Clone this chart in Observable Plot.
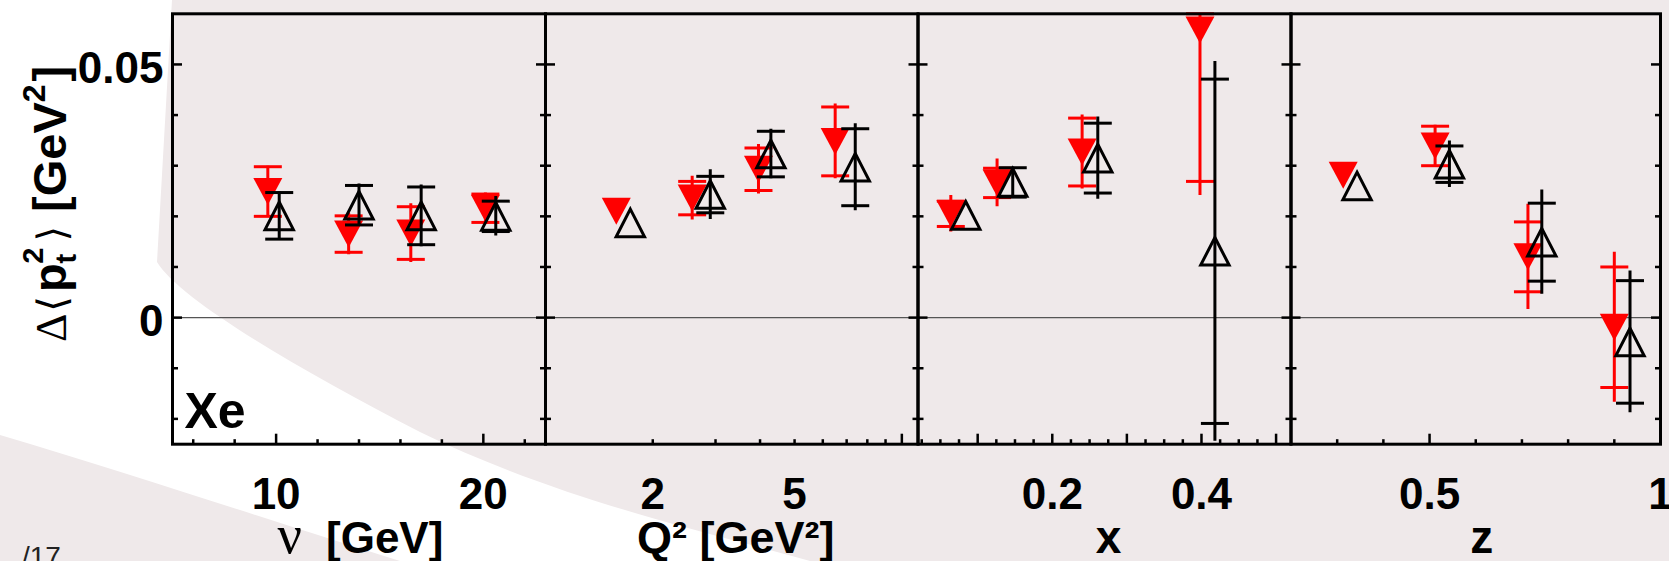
<!DOCTYPE html>
<html><head><meta charset="utf-8">
<script src="https://cdn.jsdelivr.net/npm/d3@7"></script>
<script src="https://cdn.jsdelivr.net/npm/@observablehq/plot@0.6"></script>
<style>
html,body{margin:0;padding:0;width:1669px;height:561px;overflow:hidden;background:#efe9ea;}
#stage{position:relative;width:1669px;height:561px;overflow:hidden;}
#stage svg{position:absolute;left:0;top:0;}
#slide{position:absolute;left:22px;top:541px;font:28px "Liberation Sans",Arial,sans-serif;color:#222;}
</style></head><body>
<div id="stage">
<svg width="1669" height="561" style="position:absolute;left:0;top:0">
  <path d="M0,0 L172,0 L157,262 C180,300 300,370 420,432 C560,500 700,530 810,561 L400,561 C300,530 150,480 0,435 Z" fill="#ffffff"/>
</svg>
<svg width="1669" height="561" style="position:absolute;left:0;top:0;z-index:5">
  <text transform="translate(66,342) rotate(-90)" font-family="Liberation Sans, Arial, sans-serif" font-size="47" fill="#000"><tspan font-family="Liberation Serif, serif" font-size="44">Δ</tspan><tspan font-family="DejaVu Sans, sans-serif" font-size="40" dx="2">⟨</tspan><tspan font-weight="bold" dx="4">p</tspan><tspan font-size="29" font-weight="bold" dy="10">t</tspan><tspan font-size="29" font-weight="bold" dx="-10" dy="-33">2</tspan><tspan font-family="DejaVu Sans, sans-serif" font-size="40" dx="6" dy="23">⟩</tspan><tspan font-weight="bold" dx="14">[GeV</tspan><tspan font-size="32" font-weight="bold" dy="-21">2</tspan><tspan font-weight="bold" dx="3" dy="21">]</tspan></text>
</svg>
<div id="slide">/17</div>
</div>
<script>
// ---------------- data ----------------
// common y ticks
const yLabelTicks = [0, 0.05];
const yMinorTicks = [-0.02, -0.01, 0.01, 0.02, 0.03, 0.04];

// panel 1: nu [GeV]
const nuRed = [9.6, 13.5, 16.5, 20.1];
const nuRedVal = [0.0249, 0.0165, 0.0167, 0.0216];
const nuRedStat = [0.0049, 0.0036, 0.0052, 0.0028];
const nuRedTot = [0.0050, 0.0041, 0.0058, 0.0030];
const nuBlack = [10.15, 14.0, 17.0, 20.6];
const nuBlackVal = [0.0201, 0.0222, 0.0201, 0.0200];
const nuBlackStat = [0.0046, 0.0039, 0.0057, 0.0030];
const nuBlackTot = [0.0047, 0.0042, 0.0061, 0.0039];
const nuLabels = [10, 20];
const nuMajor = [10, 20];
const nuMinor = [6, 8, 12, 14, 16, 18, 22];

// panel 2: Q^2 [GeV^2]
const q2Red = [1.58, 2.58, 3.96, 6.5];
const q2RedVal = [0.0210, 0.0236, 0.0293, 0.0348];
const q2RedStat = [0, 0.0033, 0.0042, 0.0068];
const q2RedTot = [0, 0.0043, 0.0049, 0.0074];
const q2Black = [1.73, 2.9, 4.29, 7.4];
const q2BlackVal = [0.0187, 0.0243, 0.0323, 0.0297];
const q2BlackStat = [0, 0.0036, 0.0045, 0.0076];
const q2BlackTot = [0, 0.0049, 0.0049, 0.0086];
const q2Labels = [2, 5];
const q2Major = [10];
const q2Minor = [2, 3, 4, 5, 6, 7, 8, 9];

// panel 3: x
const xRed = [0.064, 0.126, 0.240, 0.398];
const xRedVal = [0.0205, 0.0266, 0.0327, 0.0568];
const xRedStat = [0.0025, 0.0029, 0.0067, 0.0299];
const xRedTot = [0.0036, 0.0047, 0.0073, 0.0327];
const xBlack = [0.084, 0.147, 0.261, 0.418];
const xBlackVal = [0.0202, 0.0267, 0.0315, 0.0131];
const xBlackStat = [0, 0.0029, 0.0069, 0.0340];
const xBlackTot = [0, 0.0030, 0.0081, 0.0375];
const xLabels = [0.2, 0.4];
const xMajor = [0.1, 0.2, 0.3, 0.4, 0.5];
const xMinor = [0.025, 0.05, 0.075, 0.125, 0.15, 0.175, 0.225, 0.25, 0.275, 0.325, 0.35, 0.375, 0.425, 0.45, 0.475];

// panel 4: z
const zRed = [0.313, 0.512, 0.713, 0.900];
const zRedVal = [0.0281, 0.0339, 0.0120, -0.0019];
const zRedStat = [0, 0.0039, 0.0069, 0.0119];
const zRedTot = [0, 0.0041, 0.0104, 0.0148];
const zBlack = [0.343, 0.543, 0.743, 0.934];
const zBlackVal = [0.0260, 0.0303, 0.0149, -0.0048];
const zBlackStat = [0, 0.0036, 0.0077, 0.0121];
const zBlackTot = [0, 0.0046, 0.0103, 0.0140];
const zLabels = [0.5, 1];
const zMajor = [0.5, 1];
const zMinor = [0.3, 0.4, 0.6, 0.7, 0.8, 0.9];

// ---------------- layout ----------------
const W = 1669, H = 561;
const frameTop = 13.3, frameBottom = 443.7;
const edges = [172, 545, 917.5, 1290.5, 1660];
const yDomain = [-0.025, 0.06];
const sans = "Liberation Sans, Arial, Helvetica, sans-serif";

function rows(xs, v, s, t) { return xs.map((x, i) => ({x, v: v[i], s: s[i], t: t[i]})); }
const clampY = y => Math.max(yDomain[0], Math.min(yDomain[1], y));

const panels = [
  {type: "linear", domain: [5, 23], red: rows(nuRed, nuRedVal, nuRedStat, nuRedTot), black: rows(nuBlack, nuBlackVal, nuBlackStat, nuBlackTot), labels: nuLabels, major: nuMajor, minor: nuMinor,
   titles: [{t: "ν", dx: -57, size: 54, anchor: "end", font: "Liberation Serif, serif", weight: "normal"}, {t: "[GeV]", dx: -33, size: 44, anchor: "start", font: sans, weight: "bold"}]},
  {type: "log", domain: [1, 11.1], red: rows(q2Red, q2RedVal, q2RedStat, q2RedTot), black: rows(q2Black, q2BlackVal, q2BlackStat, q2BlackTot), labels: q2Labels, major: q2Major, minor: q2Minor,
   titles: [{t: "Q² [GeV²]", dx: 4, size: 45, anchor: "middle", font: sans, weight: "bold"}]},
  {type: "linear", domain: [0.02, 0.52], red: rows(xRed, xRedVal, xRedStat, xRedTot), black: rows(xBlack, xBlackVal, xBlackStat, xBlackTot), labels: xLabels, major: xMajor, minor: xMinor,
   titles: [{t: "x", dx: 4, size: 46, anchor: "middle", font: sans, weight: "bold"}]},
  {type: "linear", domain: [0.2, 1.0], red: rows(zRed, zRedVal, zRedStat, zRedTot), black: rows(zBlack, zBlackVal, zBlackStat, zBlackTot), labels: zLabels, major: zMajor, minor: zMinor,
   titles: [{t: "z", dx: 6, size: 46, anchor: "middle", font: sans, weight: "bold"}]}
];

// custom symbols, centred on their bounding box (like ROOT markers)
const triDown = {draw(c, size) { const r = Math.sqrt(size / Math.PI), w = 1.45 * r, h = 1.35 * r; c.moveTo(0, h); c.lineTo(w, -h); c.lineTo(-w, -h); c.closePath(); }};
const triUp = {draw(c, size) { const r = Math.sqrt(size / Math.PI), w = 1.42 * r, h = 1.38 * r; c.moveTo(0, -h); c.lineTo(w, h); c.lineTo(-w, h); c.closePath(); }};
const hline = {draw(c, size) { const r = Math.sqrt(size / Math.PI); c.moveTo(-r, 0); c.lineTo(r, 0); }};

function errMarks(data, color) {
  const d = data.filter(p => p.s > 0);
  return [
    Plot.ruleX(d, {x: "x", y1: p => p.v - p.t, y2: p => p.v + p.t, stroke: color, strokeWidth: 3, clip: true}),
    Plot.dot(d, {x: "x", y: p => clampY(p.v - p.s), symbol: hline, r: 14, stroke: color, fill: "none", strokeWidth: 3}),
    Plot.dot(d, {x: "x", y: p => clampY(p.v + p.s), symbol: hline, r: 14, stroke: color, fill: "none", strokeWidth: 3})
  ];
}

const stage = document.getElementById("stage");
panels.forEach((p, i) => {
  const marks = [
    Plot.ruleY([0], {stroke: "#555", strokeWidth: 1.2}),
    Plot.axisY(yLabelTicks, {anchor: "left", tickSize: -10, fill: "none", stroke: "black", strokeWidth: 2.5, label: null}),
    Plot.axisY(yMinorTicks, {anchor: "left", tickSize: -6, fill: "none", stroke: "black", strokeWidth: 2.5, label: null}),
    Plot.axisY(yLabelTicks, {anchor: "right", tickSize: -10, fill: "none", stroke: "black", strokeWidth: 2.5, label: null}),
    Plot.axisY(yMinorTicks, {anchor: "right", tickSize: -6, fill: "none", stroke: "black", strokeWidth: 2.5, label: null}),
    Plot.axisX(p.major, {anchor: "bottom", tickSize: -10, fill: "none", stroke: "black", strokeWidth: 2.5, label: null}),
    Plot.axisX(p.minor, {anchor: "bottom", tickSize: -4.5, fill: "none", stroke: "black", strokeWidth: 2.5, label: null}),
    Plot.text(p.labels, {x: d => d, text: d => String(d), frameAnchor: "bottom", dy: 34, lineAnchor: "top", textAnchor: "middle", fontSize: 44, fontWeight: "bold", fill: "black"}),
    ...errMarks(p.red, "#ff0000"),
    Plot.dot(p.red, {x: "x", y: "v", symbol: triDown, r: 10, fill: "#ff0000", stroke: "none"}),
    ...errMarks(p.black, "#000000"),
    Plot.dot(p.black, {x: "x", y: "v", symbol: triUp, r: 10, fill: "none", stroke: "#000000", strokeWidth: 3}),
    Plot.frame({stroke: "black", strokeWidth: 3}),
    ...p.titles.map(t => Plot.text([t.t], {frameAnchor: "bottom", dx: t.dx, dy: 109, lineAnchor: "bottom", textAnchor: t.anchor, fontSize: t.size, fontWeight: t.weight, fontFamily: t.font, fill: "black"}))
  ];
  if (i === 0) {
    marks.push(Plot.text(yLabelTicks, {y: d => d, text: d => String(d), frameAnchor: "left", dx: -9, dy: 4, textAnchor: "end", lineAnchor: "middle", fontSize: 44, fontWeight: "bold", fill: "black"}));
    marks.push(Plot.text(["Xe"], {frameAnchor: "bottom-left", dx: 12, dy: -16, lineAnchor: "bottom", textAnchor: "start", fontSize: 50, fontWeight: "bold", fill: "black"}));
  }
  const chart = Plot.plot({
    width: W, height: H,
    marginLeft: edges[i], marginRight: W - edges[i + 1], marginTop: frameTop, marginBottom: H - frameBottom,
    style: {background: "transparent", overflow: "visible", fontFamily: sans},
    x: {type: p.type, domain: p.domain, axis: null},
    y: {domain: yDomain, axis: null},
    marks
  });
  chart.style.position = "absolute"; chart.style.left = "0px"; chart.style.top = "0px";
  stage.appendChild(chart);
});
</script></body></html>
